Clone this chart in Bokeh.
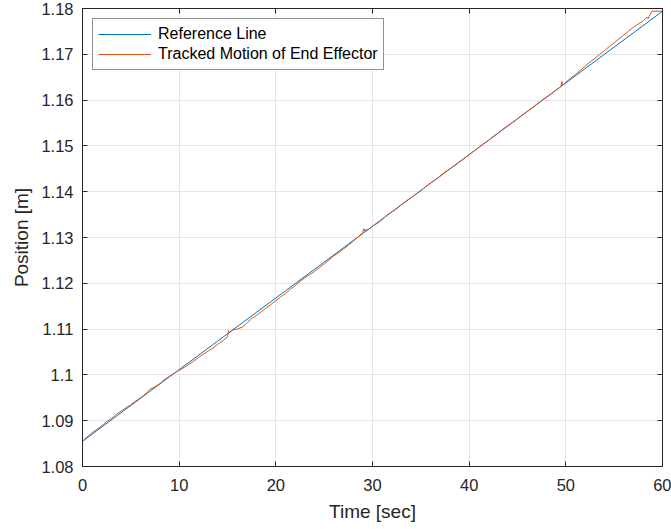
from bokeh.plotting import figure
from bokeh.models import FixedTicker, LinearAxis, Range1d, Legend, LegendItem, CustomJSTickFormatter
from bokeh.embed import file_html
from bokeh.resources import INLINE

# ---- data ----
ref_t = [0.0, 60.0]
ref_pos = [1.0855, 1.1794]

track_t = [0.0, 0.5, 1.0, 1.5, 2.0, 2.5, 3.0, 3.5, 4.0, 4.5, 5.0, 5.5, 6.0, 6.5,
           7.0, 7.5, 8.0, 8.5, 9.0, 9.5, 10.0, 10.5, 11.0, 11.5, 12.0, 12.5,
           13.0, 13.5, 14.0, 14.5, 15.0, 15.1, 15.2, 15.5, 16.0, 16.5, 17.0,
           17.5, 18.0, 18.5, 19.0, 19.5, 20.0, 20.5, 21.0, 21.5, 22.0, 22.5,
           23.0, 23.5, 24.0, 24.5, 25.0, 25.5, 26.0, 26.5, 27.0, 27.5, 28.0,
           28.5, 29.0, 29.1, 29.2, 29.3, 29.5, 30.0, 30.5, 31.0, 31.5, 32.0,
           32.5, 33.0, 33.5, 34.0, 34.5, 35.0, 35.5, 36.0, 36.5, 37.0, 37.5,
           38.0, 38.5, 39.0, 39.5, 40.0, 40.5, 41.0, 41.5, 42.0, 42.5, 43.0,
           43.5, 44.0, 44.5, 45.0, 45.5, 46.0, 46.5, 47.0, 47.5, 48.0, 48.5,
           49.0, 49.5, 49.6, 49.65, 50.0, 50.5, 51.0, 51.5, 52.0, 52.5, 53.0,
           53.5, 54.0, 54.5, 55.0, 55.5, 56.0, 56.5, 57.0, 57.5, 58.0, 58.4,
           58.5, 58.9, 60.0]
track_pos = [1.0855, 1.0865, 1.0874, 1.0881, 1.0889, 1.0898, 1.0905, 1.0914,
             1.0921, 1.0928, 1.0935, 1.0943, 1.0950, 1.0958, 1.0969, 1.0974,
             1.0981, 1.0990, 1.0997, 1.1004, 1.1010, 1.1016, 1.1023, 1.1030,
             1.1038, 1.1045, 1.1052, 1.1059, 1.1067, 1.1074, 1.1083, 1.1097,
             1.1092, 1.1098, 1.1100, 1.1104, 1.1113, 1.1123, 1.1130, 1.1138,
             1.1146, 1.1154, 1.1162, 1.1170, 1.1178, 1.1187, 1.1195, 1.1204,
             1.1212, 1.1219, 1.1226, 1.1234, 1.1242, 1.1251, 1.1260, 1.1267,
             1.1275, 1.1283, 1.1292, 1.1301, 1.1311, 1.1319, 1.1314, 1.1318,
             1.1316, 1.1325, 1.1331, 1.1339, 1.1349, 1.1356, 1.1363, 1.1372,
             1.1380, 1.1387, 1.1395, 1.1402, 1.1411, 1.1419, 1.1426, 1.1434,
             1.1443, 1.1450, 1.1457, 1.1465, 1.1473, 1.1481, 1.1489, 1.1497,
             1.1505, 1.1512, 1.1521, 1.1528, 1.1537, 1.1544, 1.1551, 1.1559,
             1.1568, 1.1575, 1.1583, 1.1591, 1.1599, 1.1607, 1.1614, 1.1622,
             1.1630, 1.1641, 1.1632, 1.1639, 1.1648, 1.1656, 1.1665, 1.1674,
             1.1683, 1.1691, 1.1700, 1.1708, 1.1717, 1.1725, 1.1734, 1.1742,
             1.1751, 1.1759, 1.1766, 1.1773, 1.1781, 1.1778, 1.1794, 1.1794]

x_ticks = [0, 10, 20, 30, 40, 50, 60]
y_ticks = [1.08, 1.09, 1.10, 1.11, 1.12, 1.13, 1.14, 1.15, 1.16, 1.17, 1.18]
y_tick_labels = ["1.08", "1.09", "1.1", "1.11", "1.12", "1.13", "1.14",
                 "1.15", "1.16", "1.17", "1.18"]

labels = ["Reference Line", "Tracked Motion of End Effector"]
colors = ["#0072BD", "#D95319"]

FONT = "Liberation Sans"
TXT = "#262626"

p = figure(width=671, height=529, output_backend="svg", toolbar_location=None,
           x_range=Range1d(0, 60), y_range=Range1d(1.08, 1.18),
           min_border_left=82, min_border_right=9, min_border_top=8,
           min_border_bottom=63, background_fill_color="white",
           border_fill_color="white")

r1 = p.line(ref_t, ref_pos, line_color=colors[0], line_width=1)
r2 = p.line(track_t, track_pos, line_color=colors[1], line_width=1)

p.xaxis.ticker = FixedTicker(ticks=x_ticks)
p.yaxis.ticker = FixedTicker(ticks=y_ticks)
p.yaxis.major_label_overrides = {t: l for t, l in zip(y_ticks, y_tick_labels)}

for ax in (p.xaxis[0], p.yaxis[0]):
    ax.major_tick_in = 5
    ax.major_tick_out = 0
    ax.minor_tick_in = 0
    ax.minor_tick_out = 0
    ax.axis_line_color = TXT
    ax.major_tick_line_color = TXT
    ax.major_label_text_font = FONT
    ax.major_label_text_font_size = "16.5px"
    ax.major_label_text_color = TXT
    ax.axis_label_text_font = FONT
    ax.axis_label_text_font_size = "19px"
    ax.axis_label_text_font_style = "normal"
    ax.axis_label_text_color = TXT

p.xaxis.axis_label = "Time [sec]"
p.yaxis.axis_label = "Position [m]"
p.xaxis.major_label_standoff = 12
p.yaxis.major_label_standoff = 9
p.xaxis.axis_label_standoff = 7
p.yaxis.axis_label_standoff = 6

# mirrored axes (box) on top and right
blank = CustomJSTickFormatter(code="return '';")
top = LinearAxis(ticker=FixedTicker(ticks=x_ticks), formatter=blank,
                 major_tick_in=5, major_tick_out=0, minor_tick_in=0, minor_tick_out=0,
                 axis_line_color=TXT, major_tick_line_color=TXT, major_label_standoff=0)
right = LinearAxis(ticker=FixedTicker(ticks=y_ticks), formatter=blank,
                   major_tick_in=5, major_tick_out=0, minor_tick_in=0, minor_tick_out=0,
                   axis_line_color=TXT, major_tick_line_color=TXT, major_label_standoff=0)
p.add_layout(top, "above")
p.add_layout(right, "right")

p.xgrid.ticker = FixedTicker(ticks=x_ticks)
p.ygrid.ticker = FixedTicker(ticks=y_ticks)
p.grid.grid_line_color = "#e6e6e6"
p.grid.grid_line_width = 1
p.outline_line_color = TXT

legend = Legend(items=[LegendItem(label=labels[0], renderers=[r1]),
                       LegendItem(label=labels[1], renderers=[r2])],
                location="top_left")
legend.label_text_font = FONT
legend.label_text_font_size = "16px"
legend.label_text_color = "black"
legend.glyph_width = 53
legend.glyph_height = 20
legend.label_height = 20
legend.label_standoff = 7
legend.spacing = 0
legend.padding = 5
legend.margin = 10
legend.border_line_color = TXT
legend.border_line_width = 1
legend.background_fill_alpha = 1
p.add_layout(legend)

open("out.html", "w").write(file_html(p, INLINE))
